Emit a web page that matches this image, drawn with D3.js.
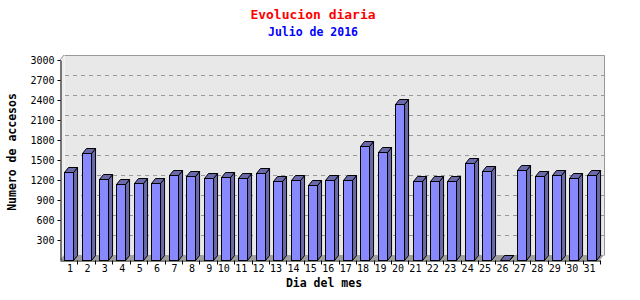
<!DOCTYPE html>
<html>
<head>
<meta charset="utf-8">
<script src="https://cdn.jsdelivr.net/npm/d3@7"></script>
<style>
    body { margin: 0; background: #fff; }
    svg { display: block; }
    .tick text { font-family: 'DejaVu Sans Mono', monospace; font-size: 10px; fill: #000; }
</style>
</head>
<body>
<svg id="chart"></svg>
<script>
// visitas diarias, julio 2016
const days = ['1', '2', '3', '4', '5', '6', '7', '8', '9', '10', '11', '12', '13', '14', '15', '16',
    '17', '18', '19', '20', '21', '22', '23', '24', '25', '26', '27', '28', '29', '30', '31'];
const visits = [1315, 1600, 1210, 1135, 1150, 1150, 1270, 1255, 1225, 1240, 1225, 1300, 1180, 1195, 1120, 1195,
    1195, 1705, 1615, 2340, 1180, 1180, 1180, 1450, 1330, 0, 1345, 1255, 1270, 1225, 1270];
const yTicks = [300, 600, 900, 1200, 1500, 1800, 2100, 2400, 2700, 3000];

const width = 640, height = 300;
const margin = { top: 60, right: 40, bottom: 40, left: 60 };
const depthX = 4, depthY = 5; // profundidad del efecto 3D

const svg = d3.select('#chart').attr('width', width).attr('height', height);

const x = d3.scaleBand().domain(days).range([margin.left, width - margin.right]);
const y = d3.scaleLinear().domain([0, 3000]).range([height - margin.bottom, margin.top]);

const x0 = margin.left, x1 = width - margin.right;
const yb = y(0), yt = y(3000);
const barW = x.bandwidth() * 0.52;

// pared lateral
svg.append('polygon')
    .attr('points', [[x0, yt], [x0 + depthX, yt - depthY], [x0 + depthX, yb - depthY], [x0, yb]].join(' '))
    .attr('fill', '#ececec');
svg.append('line')
    .attr('x1', x0).attr('y1', yt).attr('x2', x0 + depthX).attr('y2', yt - depthY)
    .attr('stroke', '#999');

// pared del fondo
svg.append('rect')
    .attr('x', x0 + depthX + 0.5).attr('y', yt - depthY + 0.5)
    .attr('width', x1 - x0).attr('height', yb - yt)
    .attr('fill', '#e8e8e8');
svg.append('polyline')
    .attr('points', [[x0 + depthX + 0.5, yt - depthY + 0.5], [x1 + depthX + 0.5, yt - depthY + 0.5], [x1 + depthX + 0.5, yb - depthY + 0.5]].join(' '))
    .attr('fill', 'none').attr('stroke', '#999');

// grid punteado sobre la pared del fondo
svg.append('g').selectAll('line')
    .data(yTicks.filter(d => d < 3000))
    .join('line')
    .attr('x1', x0 + depthX + 1).attr('x2', x1 + depthX)
    .attr('y1', d => Math.round(y(d) - depthY) + 0.5)
    .attr('y2', d => Math.round(y(d) - depthY) + 0.5)
    .attr('stroke', '#999')
    .attr('stroke-dasharray', '4,4');

// suelo
svg.append('polygon')
    .attr('points', [[x0, yb], [x0 + depthX, yb - depthY], [x1 + depthX, yb - depthY], [x1, yb]].join(' '))
    .attr('fill', '#a0a0a0');

// barras
const bars = svg.append('g').selectAll('g')
    .data(days.map((d, i) => ({ day: d, value: visits[i] })))
    .join('g')
    .attr('transform', d => `translate(${Math.round(x(d.day) + (x.bandwidth() - barW) / 2) + 0.5},0.5)`);

bars.append('polygon')
    .attr('points', d => {
        const t = Math.round(y(d.value));
        return [[barW, t], [barW + depthX, t - depthY], [barW + depthX, yb - depthY], [barW, yb]].join(' ');
    })
    .attr('fill', '#6a6aaa').attr('stroke', '#000');

bars.append('polygon')
    .attr('points', d => {
        const t = Math.round(y(d.value));
        return [[0, t], [depthX, t - depthY], [barW + depthX, t - depthY], [barW, t]].join(' ');
    })
    .attr('fill', '#6a6aaa').attr('stroke', '#000');

bars.append('rect')
    .attr('x', 0)
    .attr('y', d => Math.round(y(d.value)))
    .attr('width', Math.round(barW))
    .attr('height', d => yb - Math.round(y(d.value)))
    .attr('fill', '#8888ff').attr('stroke', '#000');

// ejes
const yAxis = d3.axisLeft(y).tickValues(yTicks).tickFormat(d3.format('d'))
    .tickSize(3).tickSizeOuter(0).tickPadding(3);
svg.append('g')
    .attr('transform', `translate(${x0 + 0.5},0)`)
    .call(yAxis)
    .call(g => g.select('.domain').attr('stroke', '#000'));

const xAxis = d3.axisBottom(x).tickSize(0).tickPadding(4);
const gx = svg.append('g')
    .attr('transform', `translate(0,${yb + 0.5})`)
    .call(xAxis);
gx.selectAll('.tick text')
    .attr('text-anchor', 'end')
    .attr('dx', '4.3');
// marcas entre categorias
gx.append('g').selectAll('line')
    .data(days)
    .join('line')
    .attr('x1', d => Math.round(x(d) + x.bandwidth()) + 0.5)
    .attr('x2', d => Math.round(x(d) + x.bandwidth()) + 0.5)
    .attr('y1', 0).attr('y2', 4)
    .attr('stroke', '#000');

// titulos
svg.append('text')
    .attr('x', 313).attr('y', 19)
    .attr('text-anchor', 'middle')
    .style('font-family', "'DejaVu Sans Mono', monospace")
    .style('font-size', '13px').style('font-weight', 'bold')
    .attr('fill', '#ff0000')
    .text('Evolucion diaria');

svg.append('text')
    .attr('x', 313).attr('y', 36)
    .attr('text-anchor', 'middle')
    .style('font-family', "'DejaVu Sans Mono', monospace")
    .style('font-size', '11.5px').style('font-weight', 'bold')
    .attr('fill', '#0000ff')
    .text('Julio de 2016');

svg.append('text')
    .attr('x', 324).attr('y', 287)
    .attr('text-anchor', 'middle')
    .style('font-family', "'DejaVu Sans Mono', monospace")
    .style('font-size', '11.5px').style('font-weight', 'bold')
    .text('Dia del mes');

svg.append('text')
    .attr('transform', 'translate(16,152) rotate(-90)')
    .attr('text-anchor', 'middle')
    .style('font-family', "'DejaVu Sans Mono', monospace")
    .style('font-size', '11.5px').style('font-weight', 'bold')
    .text('Numero de accesos');
</script>
</body>
</html>
